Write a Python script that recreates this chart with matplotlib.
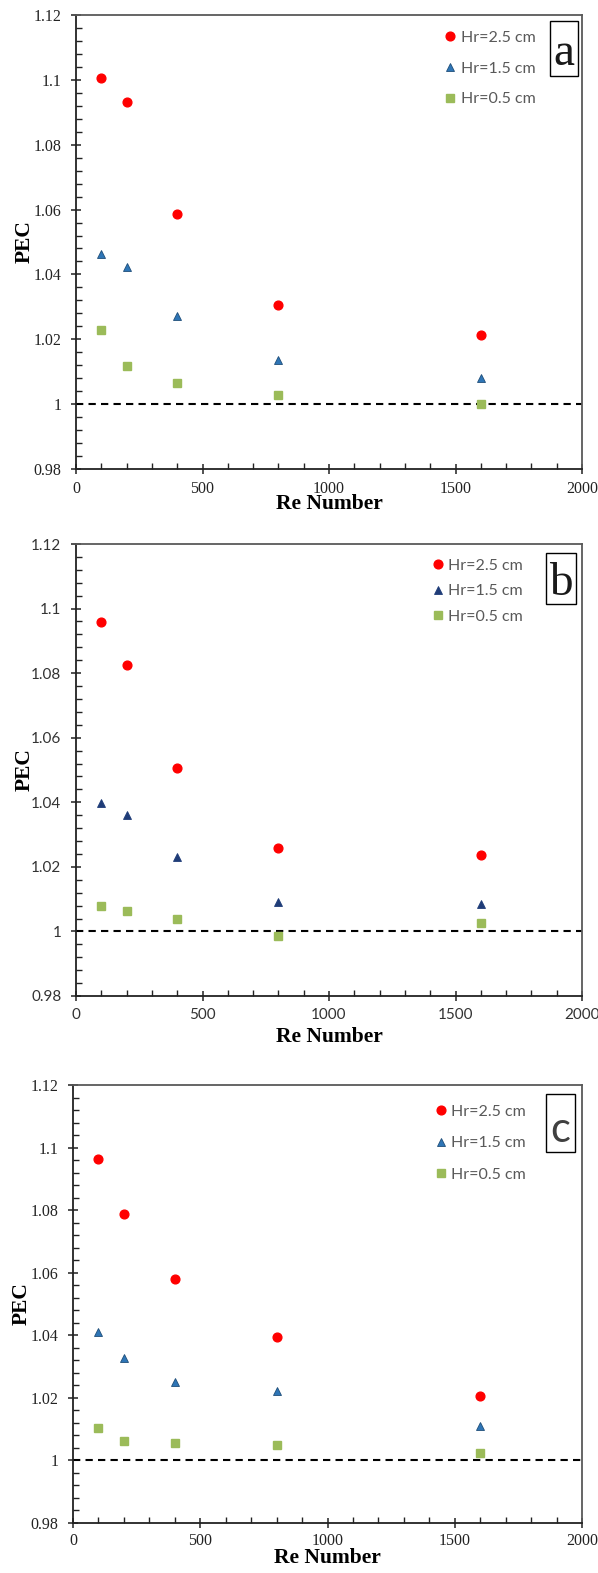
import matplotlib
matplotlib.use("Agg")
import matplotlib.pyplot as plt
from matplotlib.patches import Rectangle
from matplotlib.ticker import MultipleLocator

# Reynolds numbers shared by all three cases
re_number = [100, 200, 400, 800, 1600]

# case a
pec_a_25 = [1.1005, 1.0931, 1.0586, 1.0305, 1.0213]
pec_a_15 = [1.0462, 1.0422, 1.0271, 1.0137, 1.0081]
pec_a_05 = [1.0229, 1.0118, 1.0065, 1.0029, 1.0001]

# case b
pec_b_25 = [1.0959, 1.0825, 1.0507, 1.0257, 1.0236]
pec_b_15 = [1.0398, 1.0362, 1.0229, 1.0092, 1.0086]
pec_b_05 = [1.0079, 1.0063, 1.0039, 0.9986, 1.0026]

# case c
pec_c_25 = [1.0963, 1.0787, 1.0579, 1.0396, 1.0206]
pec_c_15 = [1.0410, 1.0328, 1.0250, 1.0221, 1.0109]
pec_c_05 = [1.0103, 1.0063, 1.0057, 1.0050, 1.0025]

labels = ["Hr=2.5 cm", "Hr=1.5 cm", "Hr=0.5 cm"]

SERIF = "Liberation Serif"
SANS = "Lato"

W, H = 598, 1573
fig = plt.figure(figsize=(W / 100, H / 100), dpi=100)


def px_axes(left, right, top, bottom):
    return fig.add_axes([left / W, 1 - bottom / H, (right - left) / W, (bottom - top) / H])


def panel(ax, s25, s15, s05, tri_color, tri_edge, tick_font, tick_color,
          letter, letter_font, letter_size, box, letter_xy,
          leg_anchor, leg_spacing, xlabel_y, xpad=5):
    ax.plot(re_number, s25, "o", color="#ff0000", mec="#ff0000", ms=6.3, label=labels[0], zorder=3)
    ax.plot(re_number, s15, "^", color=tri_color, mec=tri_edge, mew=0.6, ms=6.3, label=labels[1], zorder=3)
    ax.plot(re_number, s05, "s", color="#9bbb59", mec="#9bbb59", ms=5.5, label=labels[2], zorder=3)
    ax.axhline(1.0, color="black", lw=1.5, ls=(0, (3.5, 2.5)), zorder=2)

    ax.set_xlim(0, 2000)
    ax.set_ylim(0.98, 1.12)
    ax.xaxis.set_major_locator(MultipleLocator(500))
    ax.xaxis.set_minor_locator(MultipleLocator(100))
    ax.yaxis.set_major_locator(MultipleLocator(0.02))
    ax.yaxis.set_minor_locator(MultipleLocator(0.004))
    ax.yaxis.set_major_formatter(plt.FuncFormatter(lambda v, p: f"{v:.2f}".rstrip("0").rstrip(".")))

    ax.tick_params(which="major", direction="inout", length=7, width=1.1, color="#222222")
    ax.tick_params(which="minor", direction="in", length=4, width=1.0, color="#222222")
    ax.tick_params(axis="y", which="major", pad=7)
    ax.tick_params(axis="x", which="major", pad=xpad)
    for lab in ax.get_xticklabels() + ax.get_yticklabels():
        lab.set_fontfamily(tick_font)
        lab.set_fontsize(11.5 if tick_font == SERIF else 11)
        lab.set_color(tick_color)

    for side in ["left", "bottom"]:
        ax.spines[side].set_color("#222222")
        ax.spines[side].set_linewidth(1.3)
    for side in ["top", "right"]:
        ax.spines[side].set_color("#595959")
        ax.spines[side].set_linewidth(1.3)

    ax.set_ylabel("PEC", fontfamily=SERIF, fontweight="bold", fontsize=15.5)
    ax.yaxis.set_label_coords(-0.082, 0.5)
    ax.set_xlabel("Re Number", fontfamily=SERIF, fontweight="bold", fontsize=15.5)
    ax.xaxis.set_label_coords(0.5, xlabel_y)

    ax.legend(loc="upper left", bbox_to_anchor=leg_anchor, frameon=False,
              prop={"family": SANS, "size": 11.5}, labelcolor="#595959",
              handlelength=0.8, handletextpad=0.25, labelspacing=leg_spacing,
              borderpad=0, borderaxespad=0, numpoints=1)

    x0, x1, y0, y1 = box
    ax.add_patch(Rectangle((x0, y0), x1 - x0, y1 - y0, transform=ax.transAxes,
                           fill=False, ec="black", lw=1.0, zorder=4))
    ax.text(letter_xy[0], letter_xy[1], letter, transform=ax.transAxes,
            ha="center", va="baseline", fontfamily=letter_font,
            fontsize=letter_size, color="#1a1a1a" if letter_font == SERIF else "#404040")


ax_a = px_axes(76, 582, 15, 469)
panel(ax_a, pec_a_25, pec_a_15, pec_a_05, "#2e75b6", "#1f4e79", SERIF, "#222222",
      "a", SERIF, 34, (0.936, 0.992, 0.866, 0.987), (0.964, 0.89),
      (0.727, 0.965), 1.03, -0.055)

ax_b = px_axes(76, 582, 544, 996)
panel(ax_b, pec_b_25, pec_b_15, pec_b_05, "#1f3c78", "#1f3c78", SANS, "#333333",
      "b", SERIF, 34, (0.929, 0.988, 0.867, 0.981), (0.958, 0.887),
      (0.702, 0.968), 0.72, -0.068)

ax_c = px_axes(73, 582, 1085, 1523)
panel(ax_c, pec_c_25, pec_c_15, pec_c_05, "#2e75b6", "#1f4e79", SERIF, "#222222",
      "c", SANS, 30, (0.929, 0.986, 0.848, 0.980), (0.957, 0.869),
      (0.710, 0.955), 1.08, -0.058, xpad=4)

fig.savefig("out.png", dpi=100)
